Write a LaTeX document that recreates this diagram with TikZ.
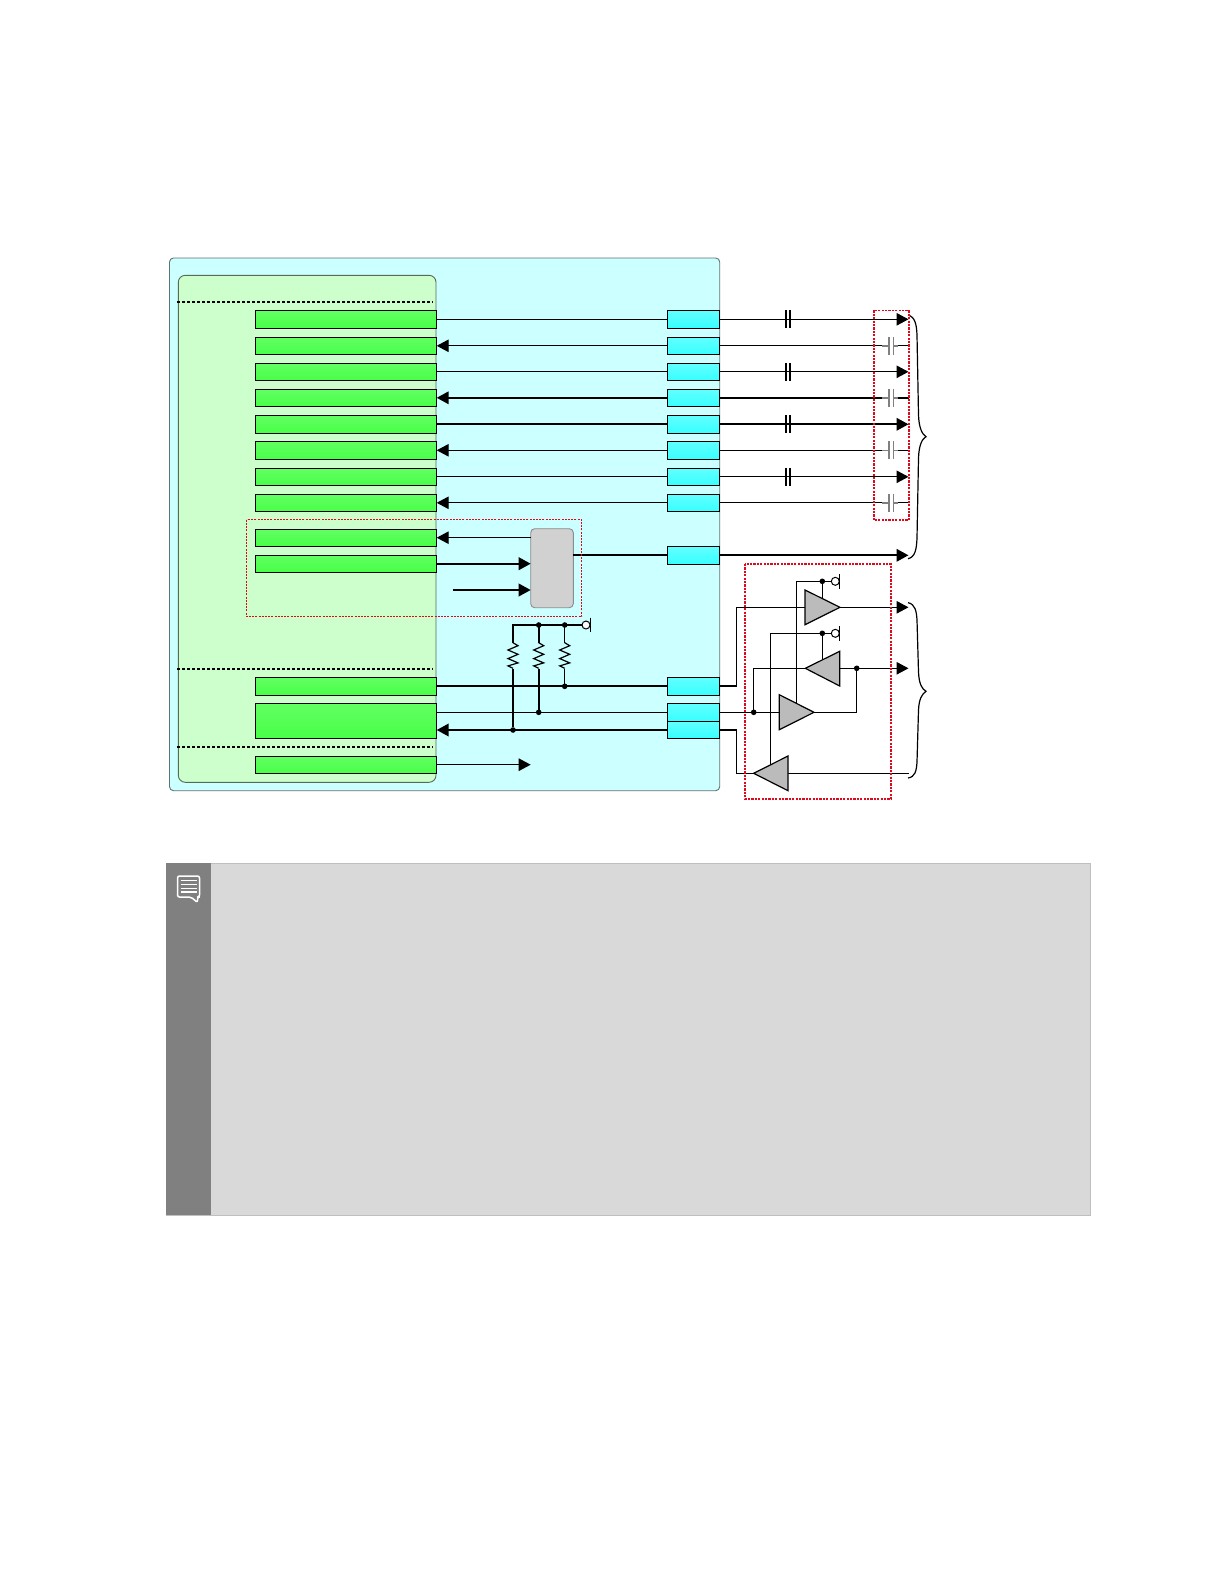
\documentclass[tikz,border=0pt]{standalone}
\usetikzlibrary{arrows.meta,calc}
\definecolor{outerfill}{HTML}{CCFFFF}
\definecolor{innerfill}{HTML}{CCFFCC}
\definecolor{notefill}{HTML}{D9D9D9}
\definecolor{noteband}{HTML}{808080}
\definecolor{ampfill}{HTML}{BBBBBB}
\definecolor{reddot}{HTML}{DD0A1E}
\definecolor{greentop}{HTML}{62FF62}
\definecolor{greenbot}{HTML}{48FF48}
\definecolor{cyantop}{HTML}{62FFFF}
\definecolor{cyanbot}{HTML}{38FFFF}
\tikzset{
  x=1pt,y=-1pt,
  thin wire/.style={line width=1.2pt,black},
  thick wire/.style={line width=2.1pt,black},
  tip/.style={-{Triangle[length=12pt,width=12.5pt]}},
  greenbar/.style={draw=black,line width=1pt,anchor=north west,inner sep=0pt,outer sep=0pt,minimum width=181.4pt,
     top color=greentop,bottom color=greenbot},
  cyanbox/.style={draw=black,line width=1pt,anchor=north west,inner sep=0pt,outer sep=0pt,minimum width=52.4pt,
     top color=cyantop,bottom color=cyanbot},
  section line/.style={line width=1.7pt,black,dash pattern=on 3pt off 2pt},
  red thin/.style={line width=1pt,reddot,dash pattern=on 2pt off 1.2pt},
  red thick/.style={line width=1.6pt,reddot,dash pattern=on 2.2pt off 1.2pt},
  amp/.style={draw=black,line width=1.2pt,fill=ampfill,line join=miter},
  capplate/.style={line width=1.8pt,black},
  graycap/.style={line width=1.4pt,black!50},
  jn/.style={circle,fill=black,inner sep=0pt,minimum size=5.6pt,outer sep=0pt},
  pullup/.style={circle,draw=black,fill=white,line width=1pt,inner sep=0pt,minimum size=8pt,outer sep=0pt},
}
\newcommand{\capacitor}[1]{%
  \draw[capplate] ($(#1)+(-2.3,-9)$) -- ($(#1)+(-2.3,9)$);
  \draw[capplate] ($(#1)+(2.3,-9)$) -- ($(#1)+(2.3,9)$);}
\newcommand{\graycapacitor}[1]{%
  \draw[graycap] ($(#1)+(-9,0)$) -- ($(#1)+(-2.4,0)$) ($(#1)+(2.4,0)$) -- ($(#1)+(7,0)$);
  \draw[graycap] ($(#1)+(-2.4,-9)$) -- ($(#1)+(-2.4,9)$);
  \draw[graycap] ($(#1)+(2.4,-9)$) -- ($(#1)+(2.4,9)$);}
\newcommand{\zigzag}[1]{%
  ($(#1)+(0,0)$) -- ++(5,3) -- ++(-10,4.3) -- ++(10,4.3) -- ++(-10,4.3) -- ++(10,4.3) -- ++(-10,3) -- ++(5,2.4)}
\begin{document}
\begin{tikzpicture}
\useasboundingbox (0,0) rectangle (1224,1584);
\fill[white] (0,0) rectangle (1224,1584);
% containers
\draw[draw=black!35!outerfill!70!black,fill=outerfill,line width=0.9pt,rounded corners=4pt] (169.5,258) rectangle (719.7,790.7);
\draw[draw=black!40!innerfill!70!black,fill=innerfill,line width=0.9pt,rounded corners=7pt] (178.3,275.3) rectangle (436,782.3);
\draw[section line] (177,302) -- (433,302);
\draw[section line] (177,669) -- (433,669);
\draw[section line] (177,747) -- (433,747);
% green bars
\node[greenbar,minimum height=18.4pt] (g1) at (255.3,310.3) {};
\node[greenbar,minimum height=17pt] (g2) at (255.3,337.3) {};
\node[greenbar,minimum height=17pt] (g3) at (255.3,363.3) {};
\node[greenbar,minimum height=17pt] (g4) at (255.3,389.3) {};
\node[greenbar,minimum height=18pt] (g5) at (255.3,415.3) {};
\node[greenbar,minimum height=18pt] (g6) at (255.3,441.3) {};
\node[greenbar,minimum height=17pt] (g7) at (255.3,468.3) {};
\node[greenbar,minimum height=17pt] (g8) at (255.3,494.3) {};
\node[greenbar,minimum height=17.3pt] (g9) at (255.3,529) {};
\node[greenbar,minimum height=17.3pt] (g10) at (255.3,555) {};
\node[greenbar,minimum height=18pt] (g11) at (255.3,677.3) {};
\node[greenbar,minimum height=35pt] (g12) at (255.3,703.3) {};
\node[greenbar,minimum height=16.6pt] (g13) at (255.3,756.7) {};
% cyan boxes
\node[cyanbox,minimum height=18pt] (c1) at (667.3,310.3) {};
\node[cyanbox,minimum height=17pt] (c2) at (667.3,337.3) {};
\node[cyanbox,minimum height=17pt] (c3) at (667.3,363.3) {};
\node[cyanbox,minimum height=17pt] (c4) at (667.3,389.3) {};
\node[cyanbox,minimum height=18pt] (c5) at (667.3,415.3) {};
\node[cyanbox,minimum height=18pt] (c6) at (667.3,441.3) {};
\node[cyanbox,minimum height=17pt] (c7) at (667.3,468.3) {};
\node[cyanbox,minimum height=17pt] (c8) at (667.3,494.3) {};
\node[cyanbox,minimum height=18pt] (c9) at (667.3,546.3) {};
\node[cyanbox,minimum height=18pt] (c11) at (667.3,677.3) {};
\node[cyanbox,minimum height=18pt] (c12) at (667.3,703.3) {};
\node[cyanbox,minimum height=17pt] (c13) at (667.3,721.3) {};
% mux block
\node[draw=black!45,fill=black!18,line width=0.9pt,rounded corners=4pt,anchor=north west,inner sep=0pt,outer sep=0pt,minimum width=42.6pt,minimum height=79pt] (mux) at (530.7,528.7) {};
% free ends
\coordinate (xr) at (908.5,0);
\coordinate (xc1) at (882.3,0);
\coordinate (xc2) at (898.3,0);
% lane connectors
\draw[thin wire] (g1.east) -- (g1.east-|c1.west);
\draw[thin wire,tip] (c2.west) -- (c2.west-|g2.east);
\draw[thin wire] (g3.east) -- (g3.east-|c3.west);
\draw[thick wire,tip] (c4.west) -- (c4.west-|g4.east);
\draw[thick wire] (g5.east) -- (g5.east-|c5.west);
\draw[thin wire,tip] (c6.west) -- (c6.west-|g6.east);
\draw[thin wire] (g7.east) -- (g7.east-|c7.west);
\draw[thin wire,tip] (c8.west) -- (c8.west-|g8.east);
\draw[thin wire,tip] (c1.east) -- (c1.east-|xr);
\draw[thin wire,tip] (c3.east) -- (c3.east-|xr);
\draw[thick wire,tip] (c5.east) -- (c5.east-|xr);
\draw[thin wire,tip] (c7.east) -- (c7.east-|xr);
\draw[thick wire,tip] (c9.east) -- (c9.east-|xr);
\draw[thin wire] (c2.east) -- (c2.east-|xc1);
\draw[thick wire] (c4.east) -- (c4.east-|xc1);
\draw[thin wire] (c6.east) -- (c6.east-|xc1);
\draw[thin wire] (c8.east) -- (c8.east-|xc1);
\draw[thin wire] (c2.east-|xc2) -- (c2.east-|xr);
\draw[thick wire] (c4.east-|xc2) -- (c4.east-|xr);
\draw[thin wire] (c6.east-|xc2) -- (c6.east-|xr);
\draw[thin wire] (c8.east-|xc2) -- (c8.east-|xr);
% capacitors
\foreach \n in {c1,c3,c5,c7}{\capacitor{\n.east-|788,0}}
\foreach \n in {c2,c4,c6,c8}{\graycapacitor{\n.east-|891.3,0}}
% mux connectors
\coordinate (m1) at (530.7,537.7);
\coordinate (m2) at (530.7,563.7);
\coordinate (m3) at (530.7,590);
\coordinate (s3) at (452.7,590);
\draw[thin wire,tip] (m1) -- (m1-|g9.east);
\draw[thick wire,tip] (m2-|g10.east) -- (m2);
\draw[thick wire,tip] (s3) -- (m3);
\draw[thick wire] (mux.east|-c9.west) -- (c9.west);
\coordinate (tstop) at (530.7,764.7);
\draw[thin wire,tip] (tstop-|g13.east) -- (tstop);
% serial connectors
\coordinate (c12w) at (667.3,712.3);
\coordinate (c13w) at (667.3,730);
\draw[thick wire] (g11.east) -- (g11.east-|c11.west);
\draw[thin wire] (c12w-|g12.east) -- (c12w);
\draw[thick wire,tip] (c13w) -- (c13w-|g12.east);
% pull-ups
\coordinate (ra) at (513,625);
\coordinate (rb) at (538.7,625);
\coordinate (rc) at (564.7,625);
\node[jn] (jb) at (rb) {};
\node[jn] (jc) at (rc) {};
\node[pullup] (vtop) at (586,625) {};
\node[jn] (jc2) at (564.7,686.3) {};
\node[jn] (jb2) at (538.7,712.3) {};
\node[jn] (ja2) at (513,730) {};
\draw[thick wire] (vtop) -- (ra) -- ++(0,17.7);
\draw[thick wire] (rb) -- ++(0,17.7);
\draw[thin wire] (rc) -- ++(0,17.7);
\draw[thin wire,line join=miter] \zigzag{513,642.7};
\draw[thin wire,line join=miter] \zigzag{538.7,642.7};
\draw[thin wire,line join=miter] \zigzag{564.7,642.7};
\draw[thick wire] (513,668.7) -- (ja2);
\draw[thick wire] (538.7,668.7) -- (jb2);
\draw[thin wire] (564.7,668.7) -- (jc2);
\draw[line width=1.3pt] (590.3,617.7) -- (590.3,632.3);
% amplifiers
\coordinate (a1) at (805,607.3);
\coordinate (a1t) at (840,607.3);
\coordinate (a2) at (839.7,668.3);
\coordinate (a2t) at (805.3,668.3);
\coordinate (a3) at (779.3,712.3);
\coordinate (a3t) at (814,712.3);
\coordinate (a4) at (788,773.3);
\coordinate (a4t) at (753.7,773.3);
\coordinate (o1) at (908.5,607.3);
\coordinate (o2) at (908.5,668.3);
\coordinate (o4) at (908.7,773.3);
\node[pullup] (v1) at (835.3,581.3) {};
\node[pullup] (v2) at (835.3,633.3) {};
\node[jn] (j1) at (822.3,581.3) {};
\node[jn] (j2) at (822.3,633.3) {};
\node[jn] (j3) at (753.7,712.3) {};
\node[jn] (j4) at (856.7,668.3) {};
\draw[thin wire] (v1) -- (796.7,581.3) -- (796.7,704);
\draw[thin wire] (v2) -- (770.3,633.3) -- (770.3,765);
\draw[thin wire] (j1) -- (822.3,598);
\draw[thin wire] (j2) -- (822.3,660);
\draw[line width=1.3pt] (839.7,574) -- (839.7,588.7);
\draw[line width=1.3pt] (839.7,626) -- (839.7,640.7);
\draw[thick wire] (c11.east) -- (c11.east-|736.7,0);
\draw[thin wire] (c11.east-|736.7,0) -- (736.7,607.3) -- (a1);
\draw[thick wire] (c13w-|c13.east) -- (736.7,730);
\draw[thin wire] (736.7,730) -- (736.7,773.3) -- (a4t);
\draw[thin wire] (c12w-|c12.east) -- (a3);
\draw[thin wire] (j3) -- (753.7,668.3) -- (a2t);
\draw[thin wire] (a3t) -- (856.7,712.3) -- (j4);
\draw[thin wire,tip] (a1t) -- (o1);
\draw[thin wire,tip] (a2) -- (o2);
\draw[thin wire] (a4) -- (o4);
\draw[amp] (805,590) -- (a1t) -- (805,624.7) -- cycle;
\draw[amp] (839.7,651.3) -- (a2t) -- (839.7,686) -- cycle;
\draw[amp] (779.3,694.7) -- (a3t) -- (779.3,729.7) -- cycle;
\draw[amp] (788,756) -- (a4t) -- (788,790.7) -- cycle;
% braces
\draw[line width=1.2pt] (908,315) .. controls (915,317) and (916.5,324) .. (917,335)
  -- (918.5,415) .. controls (919,428) and (922,434) .. (926,436.7)
  .. controls (922,439) and (919,445) .. (918.5,458) -- (917,538) .. controls (916.5,550) and (915,557) .. (908,558.7);
\draw[line width=1.2pt] (908,602.7) .. controls (915,604) and (916.5,611) .. (917,620)
  -- (918.5,672) .. controls (919,684) and (922,689) .. (926,691.3)
  .. controls (922,694) and (919,699) .. (918.5,710) -- (917,762) .. controls (916.5,771) and (915,777) .. (908,778);
% red groups
\draw[red thin] (246.7,519.7) rectangle (581.7,616.7);
\draw[red thick] (873.7,310.3) rectangle (908.7,520);
\draw[red thick] (745,564) rectangle (891,799);
% note
\fill[notefill] (166,863.3) rectangle (1090.7,1215);
\draw[black!25,line width=0.8pt] (166,863.3) -- (1090.7,863.3) -- (1090.7,1215) -- (166,1215);
\fill[noteband] (166,863.3) rectangle (210.7,1215);
\draw[white,line width=1.5pt,line join=round,rounded corners=2pt] (177.5,876) -- (199.5,876) -- (199.5,897) -- (197.5,897) -- (197.5,902.5) -- (191,897) -- (177.5,897) -- cycle;
\foreach \y in {880.5,884.5,888.5,892}{\draw[white,line width=1.2pt] (180.5,\y) -- (197,\y);}
\end{tikzpicture}
\end{document}
